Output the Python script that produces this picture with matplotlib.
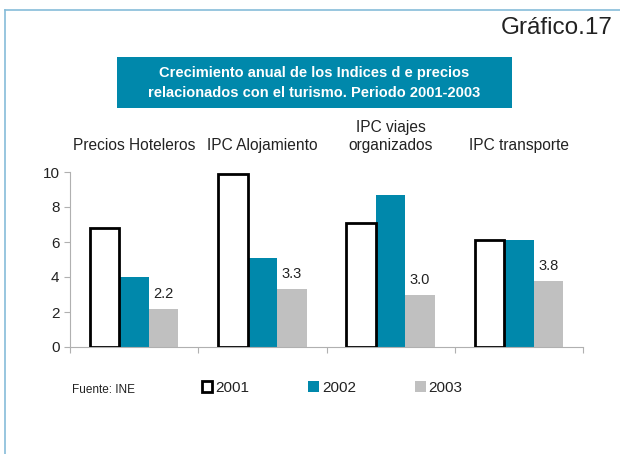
import numpy as np
import matplotlib.pyplot as plt
from matplotlib.patches import Rectangle
from matplotlib.lines import Line2D

plt.rcParams['font.family'] = ['Liberation Sans', 'DejaVu Sans']

categories = ['Precios Hoteleros', 'IPC Alojamiento', 'IPC viajes\norganizados', 'IPC transporte']
years = ['2001', '2002', '2003']
v2001 = [6.8, 9.9, 7.1, 6.1]
v2002 = [4.0, 5.1, 8.7, 6.1]
v2003 = [2.2, 3.3, 3.0, 3.8]

teal = '#0088ab'
grey = '#c0c0c0'
axis_grey = '#b0b0b0'
txt = '#222222'

fig = plt.figure(figsize=(6.2, 4.54), dpi=100)
ax = fig.add_axes([70 / 620, 1 - 347 / 454, (583 - 70) / 620, (347 - 172) / 454])

x = np.arange(len(categories))
w = 0.23
b1 = ax.bar(x - w, v2001, w, color='white', edgecolor='black', linewidth=2, label=years[0], zorder=3)
b2 = ax.bar(x, v2002, w, color=teal, label=years[1], zorder=2)
b3 = ax.bar(x + w, v2003, w, color=grey, label=years[2], zorder=2)

for xi, v in zip(x, v2003):
    ax.text(xi + w, v + 0.45, f'{v:.1f}', ha='center', va='bottom', fontsize=10.5, color=txt)

ax.set_xlim(-0.5, len(categories) - 0.5)
ax.set_ylim(0, 10)
ax.set_yticks(range(0, 11, 2))
ax.tick_params(axis='y', labelsize=11, colors=axis_grey, labelcolor=txt, length=4, width=0.8)
ax.set_xticks(np.arange(-0.5, len(categories), 1.0))
ax.set_xticklabels([])
ax.tick_params(axis='x', colors=axis_grey, length=4, width=0.8)
for s in ['top', 'right']:
    ax.spines[s].set_visible(False)
for s in ['left', 'bottom']:
    ax.spines[s].set_color(axis_grey)
    ax.spines[s].set_linewidth(0.8)

# category labels above the plot
for xi, c in zip(x, categories):
    ax.annotate(c, xy=(xi, 10), xycoords='data', xytext=(0, 14), textcoords='offset points',
                ha='center', va='bottom', fontsize=11.2, color=txt, linespacing=1.2)

# title box
fig.patches.append(Rectangle((117 / 620, 1 - 108 / 454), (512 - 117) / 620, (108 - 57) / 454,
                             transform=fig.transFigure, facecolor=teal, edgecolor='none'))
fig.text(314 / 620, 1 - 83 / 454,
         'Crecimiento anual de los Indices d e precios\nrelacionados con el turismo. Periodo 2001-2003',
         ha='center', va='center', color='white', fontsize=10.5, fontweight='bold', linespacing=1.55)

fig.text(613 / 620, 1 - 28 / 454, 'Gráfico.17', ha='right', va='center', fontsize=17.5, color=txt)

# frame lines
border = '#86bcd9'
fig.add_artist(Line2D([5 / 620, 5 / 620], [0, 1 - 10 / 454], transform=fig.transFigure, color=border, lw=1.2))
fig.add_artist(Line2D([5 / 620, 1], [1 - 10 / 454, 1 - 10 / 454], transform=fig.transFigure, color=border, lw=1.2))

fig.text(72 / 620, 1 - 390 / 454, 'Fuente: INE', ha='left', va='center', fontsize=8.5, color=txt)

leg = fig.legend(handles=[b1, b2, b3], labels=years, loc='center left',
                 bbox_to_anchor=(188 / 620, 1 - 388 / 454), ncol=3, frameon=False,
                 fontsize=11, handlelength=0.7, handleheight=0.7, handletextpad=0.2,
                 columnspacing=3.85)
for t in leg.get_texts():
    t.set_color(txt)

fig.savefig('out.png', dpi=100)
